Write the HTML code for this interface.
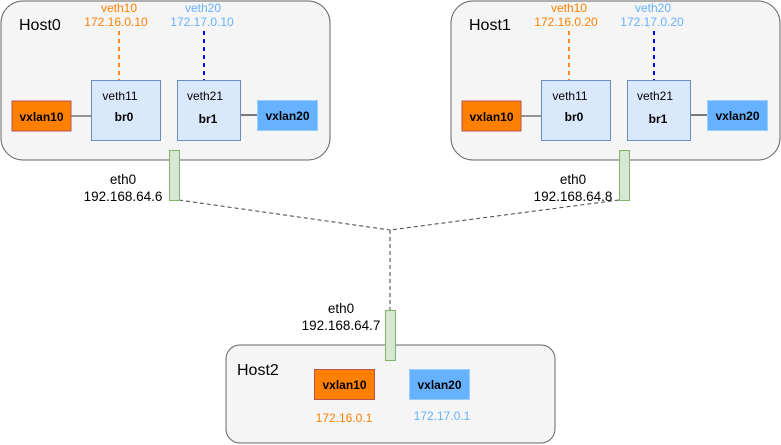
<!DOCTYPE html>
<html><head><meta charset="utf-8"><style>
html,body{margin:0;padding:0;background:#fff;}
svg{display:block;font-family:"Liberation Sans",Helvetica,Arial,sans-serif;}
</style></head><body>
<svg width="781" height="445" viewBox="0 0 781 445" xmlns="http://www.w3.org/2000/svg">
<g stroke="#444" stroke-width="1" stroke-dasharray="4,3" fill="none">
<line x1="179" y1="200" x2="390" y2="230"/>
<line x1="619" y1="200" x2="390" y2="230"/>
<line x1="390" y1="230" x2="390" y2="310"/>
</g>
<g>
<rect x="1" y="1" width="329" height="159" rx="22" fill="#f5f5f5" stroke="#666"/>
<text x="19" y="30" font-size="16" fill="#000">Host0</text>
<text x="119" y="12" font-size="12" fill="#ff8000" text-anchor="middle">veth10</text>
<text x="116" y="26" font-size="12" fill="#ff8000" text-anchor="middle">172.16.0.10</text>
<text x="203" y="12" font-size="12" fill="#66b2ff" text-anchor="middle">veth20</text>
<text x="202" y="26" font-size="12" fill="#66b2ff" text-anchor="middle">172.17.0.10</text>
<line x1="119" y1="31" x2="119" y2="80" stroke="#ff8c1a" stroke-width="2" stroke-dasharray="4,4"/>
<line x1="204" y1="31" x2="204" y2="80" stroke="#0000ff" stroke-width="2" stroke-dasharray="4,4"/>
<line x1="71" y1="116" x2="92" y2="116" stroke="#333" stroke-width="1"/>
<line x1="241" y1="115" x2="257" y2="115" stroke="#000" stroke-width="1"/>
<rect x="12" y="101" width="59" height="30" fill="#ff8000" stroke="#b85450"/>
<text x="41.5" y="121" font-size="12" font-weight="bold" text-anchor="middle">vxlan10</text>
<rect x="91.5" y="80.5" width="69" height="60" fill="#dae8fc" stroke="#6c8ebf"/>
<text x="120" y="100" font-size="12" text-anchor="middle">veth11</text>
<text x="124" y="121" font-size="12" font-weight="bold" text-anchor="middle">br0</text>
<rect x="177.5" y="80.5" width="63" height="60" fill="#dae8fc" stroke="#6c8ebf"/>
<text x="205" y="100" font-size="12" text-anchor="middle">veth21</text>
<text x="208" y="123" font-size="12" font-weight="bold" text-anchor="middle">br1</text>
<rect x="257.5" y="100.5" width="60" height="30" fill="#66b2ff" stroke="#99ccff"/>
<text x="287.5" y="120" font-size="12" font-weight="bold" text-anchor="middle">vxlan20</text>
<rect x="169.5" y="150.5" width="10" height="50" fill="#d5e8d4" stroke="#82b366"/>
<text x="123" y="184" font-size="13.5" text-anchor="middle">eth0</text>
<text x="123" y="201" font-size="13.5" text-anchor="middle">192.168.64.6</text>
</g>
<g transform="translate(450,0)">
<rect x="1" y="1" width="329" height="159" rx="22" fill="#f5f5f5" stroke="#666"/>
<text x="19" y="30" font-size="16" fill="#000">Host1</text>
<text x="119" y="12" font-size="12" fill="#ff8000" text-anchor="middle">veth10</text>
<text x="116" y="26" font-size="12" fill="#ff8000" text-anchor="middle">172.16.0.20</text>
<text x="203" y="12" font-size="12" fill="#66b2ff" text-anchor="middle">veth20</text>
<text x="202" y="26" font-size="12" fill="#66b2ff" text-anchor="middle">172.17.0.20</text>
<line x1="119" y1="31" x2="119" y2="80" stroke="#ff8c1a" stroke-width="2" stroke-dasharray="4,4"/>
<line x1="204" y1="31" x2="204" y2="80" stroke="#0000ff" stroke-width="2" stroke-dasharray="4,4"/>
<line x1="71" y1="116" x2="92" y2="116" stroke="#333" stroke-width="1"/>
<line x1="241" y1="115" x2="257" y2="115" stroke="#000" stroke-width="1"/>
<rect x="12" y="101" width="59" height="30" fill="#ff8000" stroke="#b85450"/>
<text x="41.5" y="121" font-size="12" font-weight="bold" text-anchor="middle">vxlan10</text>
<rect x="91.5" y="80.5" width="69" height="60" fill="#dae8fc" stroke="#6c8ebf"/>
<text x="120" y="100" font-size="12" text-anchor="middle">veth11</text>
<text x="124" y="121" font-size="12" font-weight="bold" text-anchor="middle">br0</text>
<rect x="177.5" y="80.5" width="63" height="60" fill="#dae8fc" stroke="#6c8ebf"/>
<text x="205" y="100" font-size="12" text-anchor="middle">veth21</text>
<text x="208" y="123" font-size="12" font-weight="bold" text-anchor="middle">br1</text>
<rect x="257.5" y="100.5" width="60" height="30" fill="#66b2ff" stroke="#99ccff"/>
<text x="287.5" y="120" font-size="12" font-weight="bold" text-anchor="middle">vxlan20</text>
<rect x="169.5" y="150.5" width="10" height="50" fill="#d5e8d4" stroke="#82b366"/>
<text x="123" y="184" font-size="13.5" text-anchor="middle">eth0</text>
<text x="123" y="201" font-size="13.5" text-anchor="middle">192.168.64.8</text>
</g>
<g>
<rect x="226" y="345" width="329" height="98" rx="14" fill="#f5f5f5" stroke="#666"/>
<text x="237" y="375" font-size="16" fill="#000">Host2</text>
<rect x="314.5" y="369.5" width="60" height="30" fill="#ff8000" stroke="#b85450"/>
<text x="344.5" y="389" font-size="12" font-weight="bold" text-anchor="middle">vxlan10</text>
<rect x="409.5" y="369.5" width="60" height="30" fill="#66b2ff" stroke="#99ccff"/>
<text x="439.5" y="389" font-size="12" font-weight="bold" text-anchor="middle">vxlan20</text>
<text x="344" y="422" font-size="12" fill="#ff8000" text-anchor="middle">172.16.0.1</text>
<text x="442" y="420" font-size="12" fill="#66b2ff" text-anchor="middle">172.17.0.1</text>
<rect x="385.5" y="310.5" width="10" height="50" fill="#d5e8d4" stroke="#82b366"/>
<text x="341" y="313" font-size="13.5" text-anchor="middle">eth0</text>
<text x="341" y="330" font-size="13.5" text-anchor="middle">192.168.64.7</text>
</g>
</svg>
</body></html>
